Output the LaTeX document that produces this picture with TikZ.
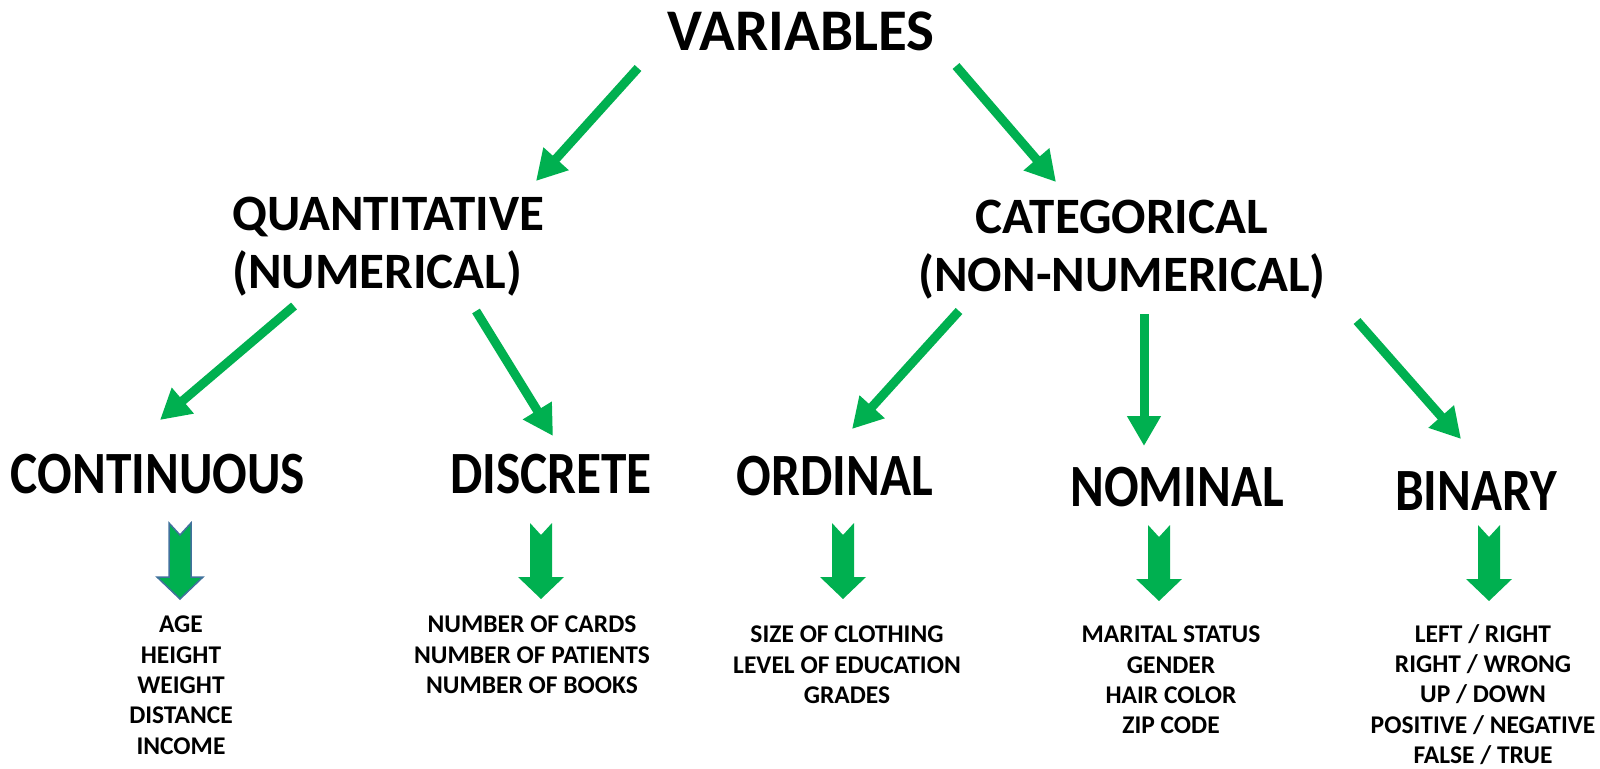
\documentclass[tikz,border=0pt]{standalone}
\usepackage{fontspec}
\setmainfont{Carlito}
\newfontfamily\leaffont{Carlito}[FakeStretch=0.855]
\usetikzlibrary{arrows.meta}
\definecolor{leafgreen}{HTML}{00B050}
\definecolor{edgeblue}{HTML}{41719C}
\tikzset{
  rootlabel/.style={font=\bfseries\fontsize{59}{66}\selectfont, inner sep=0pt, anchor=north},
  grouplabel/.style={font=\bfseries\fontsize{51}{58}\selectfont, inner sep=0pt},
  kindlabel/.style={font=\leaffont\bfseries\fontsize{60}{66}\selectfont, inner sep=0pt, anchor=north},
  examples/.style={font=\bfseries\fontsize{25.5}{30.3}\selectfont, inner sep=0pt, anchor=north, align=center},
  link/.style={draw=leafgreen, line width=9pt, -{Triangle[length=30pt,width=32pt]}},
  blockarrow/.pic={
    \path[fill=leafgreen, pic actions]
      (-11,0) -- (0,12) -- (11,0) -- (11,54) -- (23,54) -- (0,76) -- (-23,54) -- (-11,54) -- cycle;
  }
}
\begin{document}
\begin{tikzpicture}[x=1pt, y=-1pt]
\useasboundingbox (0,0) rectangle (1600,768);

% category headings
\node[rootlabel] (var) at (801,12) {VARIABLES};
\node[grouplabel, anchor=north west, align=left] (quant) at (232,197) {QUANTITATIVE\\(NUMERICAL)};
\node[grouplabel, anchor=north, align=center] (cat) at (1122,200) {CATEGORICAL\\(NON-NUMERICAL)};
\node[kindlabel] (cont) at (158,454) {CONTINUOUS};
\node[kindlabel] (disc) at (551,454) {DISCRETE};
\node[kindlabel] (ord) at (835,456) {ORDINAL};
\node[kindlabel] (nom) at (1177,467) {NOMINAL};
\node[kindlabel] (bin) at (1476,471) {BINARY};

% example lists
\node[examples] (contex) at (181,616) {AGE\\HEIGHT\\WEIGHT\\DISTANCE\\INCOME};
\node[examples] (discex) at (532,616) {NUMBER OF CARDS\\NUMBER OF PATIENTS\\NUMBER OF BOOKS};
\node[examples] (ordex) at (847,626) {SIZE OF CLOTHING\\LEVEL OF EDUCATION\\GRADES};
\node[examples] (nomex) at (1171,626) {MARITAL STATUS\\GENDER\\HAIR COLOR\\ZIP CODE};
\node[examples] (binex) at (1483,624) {LEFT / RIGHT\\RIGHT / WRONG\\UP / DOWN\\POSITIVE / NEGATIVE\\FALSE / TRUE};

% hierarchy arrows
\draw[link] ([shift={(-163,56)}]var.north) -- ([shift={(304,-16)}]quant.north west);
\draw[link] ([shift={(155,54)}]var.north) -- ([shift={(-66,-18)}]cat.north);
\draw[link] ([shift={(62,109)}]quant.north west) -- ([shift={(2,-34)}]cont.north);
\draw[link] ([shift={(244,114)}]quant.north west) -- ([shift={(2,-18)}]disc.north);
\draw[link] ([shift={(-163,111)}]cat.north) -- ([shift={(17,-27)}]ord.north);
\draw[link] ([shift={(22,114)}]cat.north) -- ([shift={(-33,-21)}]nom.north);
\draw[link] ([shift={(235,121)}]cat.north) -- ([shift={(-15,-32)}]bin.north);

% block arrows pointing to the examples
\pic[draw=edgeblue, line width=1.5pt] at ([shift={(22,69)}]cont.north) {blockarrow};
\pic at ([shift={(-10,69)}]disc.north) {blockarrow};
\pic at ([shift={(8,67)}]ord.north) {blockarrow};
\pic at ([shift={(-18,58)}]nom.north) {blockarrow};
\pic at ([shift={(13,54)}]bin.north) {blockarrow};
\end{tikzpicture}
\end{document}
